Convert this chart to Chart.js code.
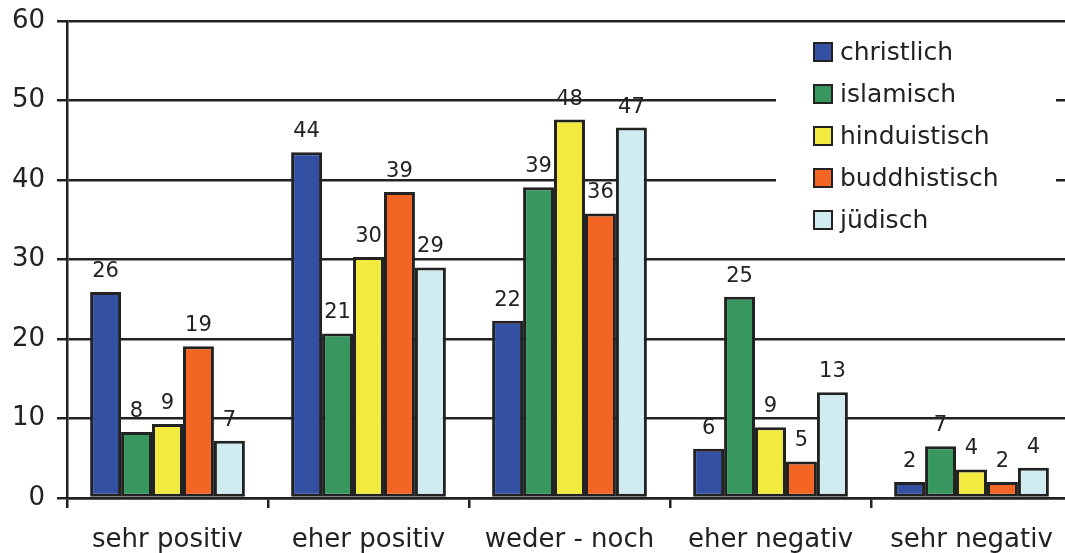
<!DOCTYPE html>
<html>
<head>
<meta charset="utf-8">
<script src="https://cdn.jsdelivr.net/npm/chart.js@4/dist/chart.umd.min.js"></script>
<style>
  html, body { margin: 0; padding: 0; overflow: hidden; background: #fff; }
  #wrap { width: 1080px; height: 553px; }
</style>
</head>
<body>
<div id="wrap"><canvas id="chart"></canvas></div>
<script>
const categories = ["sehr positiv", "eher positiv", "weder - noch", "eher negativ", "sehr negativ"];
const christlich = [25.9, 43.5, 22.3, 6.2, 2.0];
const islamisch = [8.3, 20.7, 39.1, 25.3, 6.5];
const hinduistisch = [9.3, 30.3, 47.6, 8.9, 3.6];
const buddhistisch = [19.1, 38.5, 35.8, 4.6, 2.0];
const juedisch = [7.2, 29.0, 46.6, 13.3, 3.8];
const seriesNames = ["christlich", "islamisch", "hinduistisch", "buddhistisch", "jüdisch"];
const seriesColors = ["#3450A2", "#38965F", "#F2EA3E", "#F26522", "#D0ECF0"];
const yMin = 0, yMax = 60, yStep = 10;

const ink = "#222";
const font = "DejaVu Sans, Verdana, sans-serif";

const seriesData = [christlich, islamisch, hinduistisch, buddhistisch, juedisch];

// white legend box on top of the grid, right side
const legendBox = {
  id: "legendBox",
  beforeDatasetsDraw(chart) {
    const ctx = chart.ctx;
    ctx.save();
    ctx.fillStyle = "#fff";
    ctx.fillRect(776, 28, 280, 212);
    ctx.font = "25px " + font;
    ctx.textBaseline = "middle";
    ctx.textAlign = "left";
    seriesNames.forEach((name, i) => {
      const cy = 52 + i * 42;
      ctx.fillStyle = seriesColors[i];
      ctx.fillRect(814, cy - 9, 18, 18);
      ctx.strokeStyle = ink;
      ctx.lineWidth = 2;
      ctx.strokeRect(814, cy - 9, 18, 18);
      ctx.fillStyle = ink;
      ctx.fillText(name, 840, cy + 1);
    });
    ctx.restore();
  }
};

// rounded value above each bar
const barLabels = {
  id: "barLabels",
  afterDatasetsDraw(chart) {
    const ctx = chart.ctx;
    ctx.save();
    ctx.font = "21px " + font;
    ctx.fillStyle = ink;
    ctx.textAlign = "center";
    ctx.textBaseline = "alphabetic";
    chart.data.datasets.forEach((ds, i) => {
      chart.getDatasetMeta(i).data.forEach((bar, j) => {
        ctx.fillText(String(Math.round(ds.data[j])), bar.x, bar.y - 15);
      });
    });
    ctx.restore();
  }
};

new Chart(document.getElementById("chart"), {
  type: "bar",
  data: {
    labels: categories,
    datasets: seriesNames.map((name, i) => ({
      label: name,
      data: seriesData[i],
      backgroundColor: seriesColors[i],
      borderColor: ink,
      borderWidth: 3,
      borderSkipped: false,
      barPercentage: 1,
      categoryPercentage: 0.77
    }))
  },
  options: {
    responsive: true,
    maintainAspectRatio: false,
    animation: false,
    layout: { padding: { top: 21, right: 8, left: 0, bottom: 0 } },
    plugins: {
      legend: { display: false },
      tooltip: { enabled: false }
    },
    scales: {
      x: {
        grid: { display: true, drawOnChartArea: false, drawTicks: true, tickLength: 10, color: ink, lineWidth: 2.5 },
        border: { display: true, color: ink, width: 2.5 },
        ticks: { color: ink, font: { family: font, size: 26 }, padding: 17, maxRotation: 0 },
        afterFit(scale) { scale.height = 55; scale.paddingLeft = 0; scale.paddingRight = 0; }
      },
      y: {
        min: yMin,
        max: yMax,
        ticks: { stepSize: yStep, color: ink, font: { family: font, size: 26, lineHeight: 1 }, padding: 12 },
        grid: { color: ink, lineWidth: 2.5, tickLength: 10 },
        border: { display: true, color: ink, width: 2.5 },
        afterFit(scale) { scale.width = 67; scale.paddingTop = 0; scale.paddingBottom = 0; }
      }
    }
  },
  plugins: [legendBox, barLabels]
});
</script>
</body>
</html>
